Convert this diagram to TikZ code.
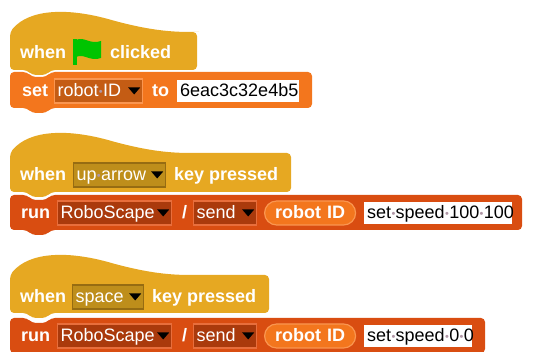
\documentclass[tikz,border=0pt]{standalone}
\usepackage{fontspec}
\setmainfont{Liberation Sans}
\definecolor{hatyellow}{RGB}{230,168,34}
\definecolor{hatslot}{RGB}{190,142,27}
\definecolor{hatslotline}{RGB}{150,108,18}
\definecolor{varorange}{RGB}{243,118,29}
\definecolor{varslot}{RGB}{196,92,20}
\definecolor{varline}{RGB}{250,150,80}
\definecolor{runred}{RGB}{217,77,17}
\definecolor{runslot}{RGB}{170,58,12}
\definecolor{runline}{RGB}{232,110,60}
\definecolor{spcgray}{RGB}{175,150,165}
\definecolor{flaggreen}{RGB}{0,196,0}
\newcommand\spdot{\makebox[0.25em]{\raisebox{1.5pt}{\textcolor{spcgray}{\fontsize{11}{11}\selectfont•}}}}
% hat block: left, flat top, right, bottom
\newcommand\hatblock[5]{%
  \fill[#5, rounded corners=4] (#1,#4) -- (#1,#2)
    .. controls (#1+20,#2-24) and (#1+60,#2-24) .. (#1+105,#2-11)
    .. controls (#1+140,#2-2) and (#1+160,#2) .. (#1+185,#2)
    -- (#3,#2) -- (#3,#4) -- (#1+41,#4) -- (#1+36,#4+5)
    -- (#1+22,#4+5) -- (#1+17,#4) -- cycle;}
% command block with notch on top and tab below
\newcommand\cmdblock[5]{%
  \fill[#5, rounded corners=4] (#1,#4) -- (#1,#2) -- (#1+17,#2)
    -- (#1+22,#2+5) -- (#1+36,#2+5) -- (#1+41,#2) -- (#3,#2)
    -- (#3,#4) -- (#1+41,#4) -- (#1+36,#4+5) -- (#1+22,#4+5)
    -- (#1+17,#4) -- cycle;}
\newcommand\ddarrow[1]{\fill[black] ([xshift=-3]#1.east) ++(-12,-3.5) -- ++(12,0) -- ++(-6,7) -- cycle;}
\tikzset{
  txt/.style={font=\fontsize{18}{21}\selectfont, inner sep=0, text height=13, text depth=1, anchor=west},
  lbl/.style={txt, text=white, font=\fontsize{18}{21}\selectfont\bfseries},
  slot/.style={txt, text=white, inner xsep=3, minimum height=24, align=left, line width=1.2},
  hatslotbox/.style={slot, fill=hatslot, draw=hatslotline},
  varslotbox/.style={slot, fill=varslot, draw=varline},
  runslotbox/.style={slot, fill=runslot, draw=runline},
  inbox/.style={txt, fill=white, text=black, inner xsep=3, minimum height=22, align=left},
  pill/.style={lbl, fill=varorange, draw=varline, line width=1.2, rounded corners=12, minimum height=24, minimum width=91, align=center}
}
\begin{document}
\begin{tikzpicture}[x=1pt,y=-1pt]
\useasboundingbox (0,0) rectangle (533,352);

% when flag clicked
\cmdblock{10}{72}{312}{108}{varorange}
\hatblock{10}{32}{197}{70}{hatyellow}
\node[lbl] (when1) at (20,53) {when};
\fill[flaggreen] (73,39) rectangle (77,65);
\fill[flaggreen] (76,40) .. controls (84,36) and (90,45) .. (101,41) -- (101,58)
  .. controls (90,62) and (84,53) .. (76,57) -- cycle;
\node[lbl] (clicked) at (110,53) {clicked};
\node[lbl] (set) at (22,91) {set};
\node[varslotbox, text width=82] (robotid) at (54,91) {robot\spdot ID};
\ddarrow{robotid}
\node[lbl] (to) at (152,91) {to};
\node[inbox, text width=116] (idval) at (177,91) {6eac3c32e4b5};

% when up arrow key pressed
\cmdblock{10}{195}{522}{230}{runred}
\hatblock{10}{153}{291}{192}{hatyellow}
\node[lbl] (when2) at (20,175) {when};
\node[hatslotbox, text width=86] (uparrow) at (73,175) {up\spdot arrow};
\ddarrow{uparrow}
\node[lbl] (key2) at (174,175) {key pressed};
\node[lbl] (run2) at (21,213) {run};
\node[runslotbox, text width=108] (robo2) at (57,213) {RoboScape};
\ddarrow{robo2}
\node[lbl] (slash2) at (182,213) {/};
\node[runslotbox, text width=57] (send2) at (193,213) {send};
\ddarrow{send2}
\node[pill] (rid2) at (264,213) {robot\hspace{6pt}ID};
\node[inbox, text width=142] (speed2) at (364,213) {set\spdot speed\spdot 100\spdot 100};

% when space key pressed
\cmdblock{10}{318}{485}{353}{runred}
\hatblock{10}{275}{269}{313}{hatyellow}
\node[lbl] (when3) at (20,297) {when};
\node[hatslotbox, text width=65] (space) at (72,297) {space};
\ddarrow{space}
\node[lbl] (key3) at (152,297) {key pressed};
\node[lbl] (run3) at (21,336) {run};
\node[runslotbox, text width=108] (robo3) at (57,336) {RoboScape};
\ddarrow{robo3}
\node[lbl] (slash3) at (182,336) {/};
\node[runslotbox, text width=57] (send3) at (193,336) {send};
\ddarrow{send3}
\node[pill] (rid3) at (264,336) {robot\hspace{6pt}ID};
\node[inbox, text width=102] (speed3) at (364,336) {set\spdot speed\spdot 0\spdot 0};
\end{tikzpicture}
\end{document}
